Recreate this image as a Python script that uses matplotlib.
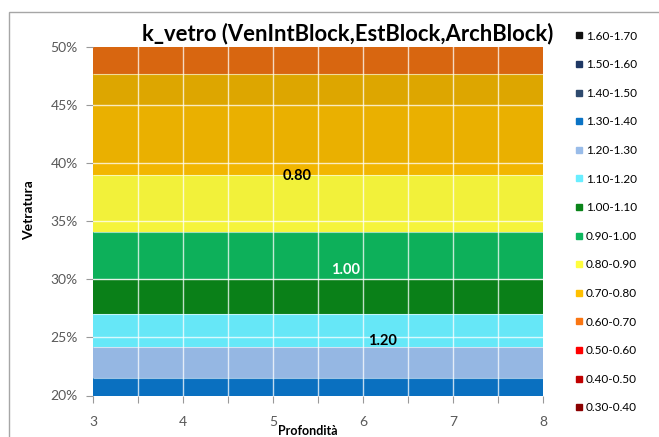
import numpy as np
import matplotlib
matplotlib.use("Agg")
import matplotlib.pyplot as plt
from matplotlib.lines import Line2D
from matplotlib.patches import Rectangle
from matplotlib.colors import to_rgb

plt.rcParams['font.family'] = ['Lato', 'DejaVu Sans']

# depth categories (Profondità) and glazing ratio rows (Vetratura)
profondita = [3.0, 3.5, 4.0, 4.5, 5.0, 5.5, 6.0, 6.5, 7.0, 7.5, 8.0]
vetratura = [0.20, 0.25, 0.30, 0.35, 0.40, 0.45, 0.50]
# k_vetro, same value along each row
k_row = [1.356, 1.168, 1.001, 0.878, 0.780, 0.720, 0.683]

band_edges = [0.30, 0.40, 0.50, 0.60, 0.70, 0.80, 0.90, 1.00,
              1.10, 1.20, 1.30, 1.40, 1.50, 1.60, 1.70]
band_colors = ['#8b0000', '#c00000', '#ff0000', '#fa7612', '#ffc000',
               '#fffe3d', '#0eb75e', '#0a8419', '#69eeff', '#99bce9',
               '#0a73c5', '#2e4a6e', '#1f3864', '#111111']
band_labels = ['%.2f-%.2f' % (a, b) for a, b in zip(band_edges[:-1], band_edges[1:])]

contour_labels = ['0.80', '1.00', '1.20']
contour_label_pos = [(5.27, 0.389), (5.81, 0.308), (6.22, 0.2465)]
contour_label_col = ['black', 'white', 'black']

X, Y = np.meshgrid(profondita, vetratura)
K = np.array(k_row)[:, None] * np.ones(len(profondita))[None, :]

fig = plt.figure(figsize=(6.59, 4.37), dpi=100)
ax = fig.add_axes([93 / 659, 1 - 395.5 / 437, 450 / 659, 348.5 / 437])

# each row of the surface drawn separately, shaded by its slope like Excel's top view
for i in range(len(vetratura) - 1):
    slope = abs(k_row[i + 1] - k_row[i]) / ((vetratura[i + 1] - vetratura[i]) * 100)
    shade = 1 - 0.001 / slope
    cols = [tuple(c * shade for c in to_rgb(col)) for col in band_colors]
    ax.contourf(X[i:i + 2], Y[i:i + 2], K[i:i + 2], levels=band_edges,
                colors=cols, antialiased=False)

ax.contour(X, Y, K, levels=band_edges, colors='white', linewidths=0.8, alpha=0.6)

for x in profondita[1:-1]:
    ax.axvline(x, color='white', lw=1, alpha=0.75)
for y in vetratura[1:-1]:
    ax.axhline(y, color='white', lw=1, alpha=0.75)

for txt, (px, py), c in zip(contour_labels, contour_label_pos, contour_label_col):
    ax.text(px, py, txt, color=c, fontsize=10.5, fontweight='bold',
            ha='center', va='center')

ax.set_xlim(profondita[0], profondita[-1])
ax.set_ylim(vetratura[0], vetratura[-1])
ax.set_xticks(profondita)
ax.set_xticklabels(['%d' % x if x == int(x) else '' for x in profondita])
ax.set_yticks(vetratura)
ax.set_yticklabels(['%d%%' % round(v * 100) for v in vetratura])
ax.tick_params(axis='x', length=5, color='#999999', labelcolor='#595959',
               labelsize=10, pad=10)
ax.tick_params(axis='y', length=5, color='#999999', labelcolor='#595959',
               labelsize=10, pad=6)
for s in ax.spines.values():
    s.set_visible(False)

fig.text(348 / 659, 1 - 34 / 437, 'k_vetro (VenIntBlock,EstBlock,ArchBlock)',
         ha='center', va='center', fontsize=15.8, fontweight='bold')
fig.text(29 / 659, 1 - 210 / 437, 'Vetratura', rotation=90, ha='center',
         va='center', fontsize=10, fontweight='bold')
fig.text(308 / 659, 1 - 431 / 437, 'Profondità', ha='center', va='center',
         fontsize=9, fontweight='bold')

handles = [Line2D([], [], marker='s', ls='none', markersize=4.5, color=c)
           for c in band_colors[::-1]]
fig.legend(handles, band_labels[::-1], loc='upper left',
           bbox_to_anchor=(562 / 659, 1 - 20 / 437), frameon=False,
           fontsize=8.5, labelspacing=1.49, handletextpad=0.1, handlelength=1.0)

fig.add_artist(Rectangle((9 / 659, -0.1), 1, 1 - 12 / 437 + 0.1,
                         transform=fig.transFigure, fill=False,
                         edgecolor='#a6a6a6', lw=1))

fig.savefig('out.png', dpi=100)
